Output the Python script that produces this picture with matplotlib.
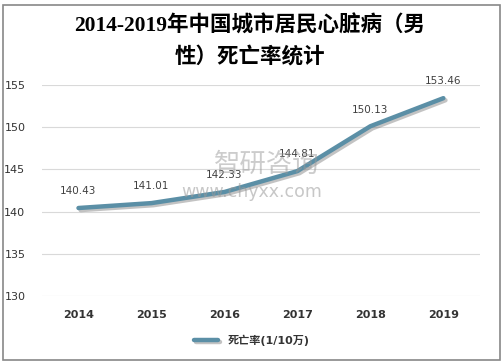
import matplotlib.pyplot as plt
import matplotlib.patheffects as pe
from matplotlib.patches import Rectangle

years = ['2014', '2015', '2016', '2017', '2018', '2019']
rates = [140.43, 141.01, 142.33, 144.81, 150.13, 153.46]
yticks = [130, 135, 140, 145, 150, 155]

plt.rcParams['font.family'] = ['DejaVu Sans', 'Noto Sans CJK SC']

fig = plt.figure(figsize=(5.03, 3.64), dpi=100)
ax = fig.add_axes([0.0835, 0.187, 0.8705, 0.579])

# border round the whole picture
fig.patches.append(Rectangle((3 / 503, 4 / 364), 497 / 503, 355 / 364,
                             transform=fig.transFigure, fill=False,
                             edgecolor='#888888', linewidth=1.2))

x = range(len(years))
ax.plot(x, rates, color='#5B8FA6', linewidth=3.2, solid_capstyle='round',
        label='死亡率(1/10万)',
        path_effects=[pe.SimpleLineShadow(offset=(1.5, -1.5), alpha=0.35, shadow_color='#555555'),
                      pe.Normal()])

for i, v in enumerate(rates):
    ax.annotate(f'{v:.2f}', (i, v), xytext=(0, 12), textcoords='offset points',
                ha='center', va='center', fontsize=7.5, color='#404040')

ax.set_xlim(-0.5, len(years) - 0.5)
ax.set_ylim(130, 155)
ax.set_yticks(yticks)
ax.set_xticks(list(x))
ax.set_xticklabels(years, fontweight='bold', fontsize=8, color='#333333')
ax.tick_params(axis='y', labelsize=8, labelcolor='#333333', length=0, pad=12)
ax.tick_params(axis='x', length=0, pad=10)
ax.grid(axis='y', color='#d9d9d9', linewidth=0.8)
ax.set_axisbelow(True)
for s in ax.spines.values():
    s.set_visible(False)

# watermark
fig.text(0.53, 0.548, '智研咨询', fontsize=19, color='#9a9a9a', alpha=0.5,
         ha='center', va='center', family=['Noto Sans CJK SC'])
fig.text(0.5, 0.472, 'www.chyxx.com', fontsize=12.5, color='#9a9a9a', alpha=0.55,
         ha='center', va='center')

fig.text(0.497, 0.928, '2014-2019年中国城市居民心脏病（男', fontsize=15.5,
         fontweight='bold', ha='center', va='center',
         family=['Liberation Serif', 'Noto Sans CJK SC'])
fig.text(0.497, 0.842, '性）死亡率统计', fontsize=15.5,
         fontweight='bold', ha='center', va='center',
         family=['Liberation Serif', 'Noto Sans CJK SC'])

leg = fig.legend(loc='center', bbox_to_anchor=(0.5, 0.065), frameon=False,
                 fontsize=8, handlelength=2.2)
for t in leg.get_texts():
    t.set_color('#333333')
    t.set_fontweight('bold')

fig.savefig('out.png', dpi=100)
